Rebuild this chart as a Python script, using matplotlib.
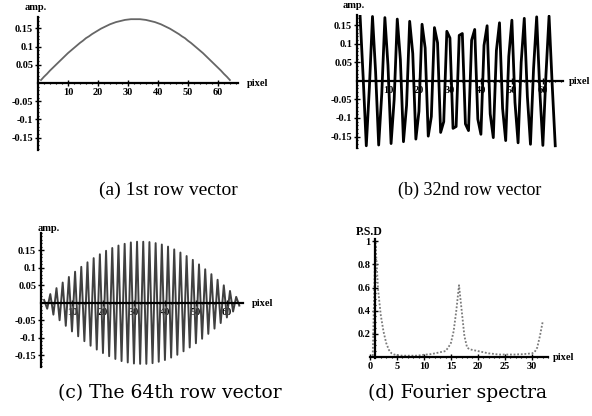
import numpy as np
import matplotlib
matplotlib.use("Agg")
import matplotlib.pyplot as plt
from matplotlib.ticker import MultipleLocator, FixedLocator, FixedFormatter

# ---------------- data ----------------
pixel = list(range(1, 65))

row1 = [0.008, 0.017, 0.025, 0.034, 0.042, 0.050, 0.058, 0.066, 0.074, 0.082,
        0.089, 0.096, 0.103, 0.110, 0.116, 0.123, 0.128, 0.134, 0.139, 0.144,
        0.149, 0.153, 0.157, 0.161, 0.164, 0.167, 0.169, 0.171, 0.173, 0.174,
        0.175, 0.175, 0.175, 0.175, 0.174, 0.173, 0.171, 0.169, 0.167, 0.164,
        0.161, 0.157, 0.153, 0.149, 0.144, 0.139, 0.134, 0.128, 0.123, 0.116,
        0.110, 0.103, 0.096, 0.089, 0.082, 0.074, 0.066, 0.058, 0.050, 0.042,
        0.034, 0.025, 0.017, 0.008]

row32 = [0.175, 0.008, -0.175, -0.017, 0.174, 0.025, -0.173, -0.034,
         0.171, 0.042, -0.169, -0.050, 0.167, 0.058, -0.164, -0.066,
         0.161, 0.074, -0.157, -0.082, 0.153, 0.089, -0.149, -0.096,
         0.144, 0.103, -0.139, -0.110, 0.134, 0.116, -0.128, -0.123,
         0.123, 0.128, -0.116, -0.134, 0.110, 0.139, -0.103, -0.144,
         0.096, 0.149, -0.089, -0.153, 0.082, 0.157, -0.074, -0.161,
         0.066, 0.164, -0.058, -0.167, 0.050, 0.169, -0.042, -0.171,
         0.034, 0.173, -0.025, -0.174, 0.017, 0.175, -0.008, -0.175]

row64 = [0.008, -0.017, 0.025, -0.034, 0.042, -0.050, 0.058, -0.066, 0.074, -0.082,
         0.089, -0.096, 0.103, -0.110, 0.116, -0.123, 0.128, -0.134, 0.139, -0.144,
         0.149, -0.153, 0.157, -0.161, 0.164, -0.167, 0.169, -0.171, 0.173, -0.174,
         0.175, -0.175, 0.175, -0.175, 0.174, -0.173, 0.171, -0.169, 0.167, -0.164,
         0.161, -0.157, 0.153, -0.149, 0.144, -0.139, 0.134, -0.128, 0.123, -0.116,
         0.110, -0.103, 0.096, -0.089, 0.082, -0.074, 0.066, -0.058, 0.050, -0.042,
         0.034, -0.025, 0.017, -0.008]

freq = np.arange(0, 32.5, 0.5)
psd = [0.0, 0.0, 1.0, 0.58, 0.36, 0.22, 0.12, 0.06, 0.03, 0.02,
       0.015, 0.012, 0.01, 0.01, 0.01, 0.01, 0.01, 0.01, 0.012, 0.015,
       0.018, 0.02, 0.022, 0.025, 0.03, 0.035, 0.04, 0.045, 0.05, 0.08,
       0.12, 0.22, 0.40, 0.62, 0.40, 0.18, 0.08, 0.065, 0.06, 0.055,
       0.05, 0.045, 0.04, 0.035, 0.03, 0.028, 0.025, 0.022, 0.02, 0.02,
       0.02, 0.02, 0.02, 0.02, 0.02, 0.022, 0.022, 0.025, 0.025, 0.028,
       0.03, 0.04, 0.08, 0.18, 0.30]

amp_ticks = [-0.15, -0.1, -0.05, 0.05, 0.1, 0.15]
amp_labels = ["-0.15", "-0.1", "-0.05", "0.05", "0.1", "0.15"]
pix_ticks = [10, 20, 30, 40, 50, 60]
psd_yticks = [0.2, 0.4, 0.6, 0.8, 1.0]
psd_ylabels = ["0.2", "0.4", "0.6", "0.8", "1"]
psd_xticks = [0, 5, 10, 15, 20, 25, 30]
captions = ["(a) 1st row vector", "(b) 32nd row vector",
            "(c) The 64th row vector", "(d) Fourier spectra"]

# ---------------- figure ----------------
W, H = 592, 416
fig = plt.figure(figsize=(W / 100, H / 100), dpi=100)
fig.patch.set_facecolor("white")

TICKFONT = dict(family="Liberation Serif", weight="bold", size=7.5)


def add_ax(left, top, right, bottom):
    return fig.add_axes([left / W, 1 - bottom / H, (right - left) / W, (bottom - top) / H])


def style(ax, yspine_x=0):
    for s in ("top", "right"):
        ax.spines[s].set_visible(False)
    ax.spines["left"].set_position(("data", yspine_x))
    ax.spines["bottom"].set_position(("data", 0))
    ax.spines["left"].set_linewidth(1.6)
    ax.spines["bottom"].set_linewidth(1.6)
    ax.patch.set_alpha(0)
    ax.tick_params(which="major", direction="inout", length=4, width=1.0, pad=1.5)
    ax.tick_params(which="minor", direction="inout", length=2, width=0.8)
    for lab in ax.get_xticklabels() + ax.get_yticklabels():
        lab.set_fontfamily(TICKFONT["family"])
        lab.set_fontweight(TICKFONT["weight"])
        lab.set_fontsize(TICKFONT["size"])


def amp_axes(ax):
    ax.yaxis.set_major_locator(FixedLocator(amp_ticks))
    ax.yaxis.set_major_formatter(FixedFormatter(amp_labels))
    ax.yaxis.set_minor_locator(MultipleLocator(0.01))
    ax.xaxis.set_major_locator(FixedLocator(pix_ticks))
    ax.xaxis.set_minor_locator(MultipleLocator(2))


def ftext(x, y, s, **kw):
    fig.text(x / W, 1 - y / H, s, **kw)


LAB = dict(family="Liberation Serif", weight="bold", size=7.5)

# (a)
ax = add_ax(38, 17, 238, 150)
ax.plot(pixel, row1, color="#666666", lw=1.3)
ax.set_xlim(0, 66.7)
ax.set_ylim(-0.184, 0.181)
amp_axes(ax)
style(ax)
ftext(36, 8, "amp.", ha="center", va="center", **LAB)
ftext(247, 83, "pixel", ha="left", va="center", **LAB)

# (b)
ax = add_ax(357, 15, 563, 148)
ax.plot(pixel, row32, color="black", lw=2.0)
ax.set_xlim(0, 66.5)
ax.set_ylim(-0.181, 0.178)
amp_axes(ax)
style(ax)
ftext(354, 6, "amp.", ha="center", va="center", **LAB)
ftext(569, 81, "pixel", ha="left", va="center", **LAB)

# (c)
ax = add_ax(41, 233, 243, 367)
ax.plot(pixel, row64, color="#404040", lw=1.4)
ax.set_xlim(0, 65.2)
ax.set_ylim(-0.184, 0.20)
amp_axes(ax)
style(ax)
ftext(49, 228, "amp.", ha="center", va="center", **LAB)
ftext(252, 303, "pixel", ha="left", va="center", **LAB)

# (d)
ax = add_ax(370, 239, 548, 358)
ax.plot(freq, psd, color="#7a7a7a", lw=1.3, ls=(0, (1, 1)))
ax.set_xlim(0, 33)
ax.set_ylim(-0.01, 1.02)
ax.yaxis.set_major_locator(FixedLocator(psd_yticks))
ax.yaxis.set_major_formatter(FixedFormatter(psd_ylabels))
ax.yaxis.set_minor_locator(MultipleLocator(0.05))
ax.xaxis.set_major_locator(FixedLocator(psd_xticks))
ax.xaxis.set_minor_locator(MultipleLocator(1))
style(ax, yspine_x=1)
ftext(369, 232, "P.S.D", ha="center", va="center", family="Liberation Serif",
      weight="bold", size=8.5)
ftext(553, 357, "pixel", ha="left", va="center", **LAB)

# captions
ftext(168, 190, captions[0], ha="center", va="center", family="Liberation Serif", size=14)
ftext(470, 190, captions[1], ha="center", va="center", family="Liberation Serif", size=13)
ftext(170, 393, captions[2], ha="center", va="center", family="DejaVu Serif", size=13.5)
ftext(458, 393, captions[3], ha="center", va="center", family="DejaVu Serif", size=13.5)

fig.savefig("out.png", dpi=100, facecolor="white")
